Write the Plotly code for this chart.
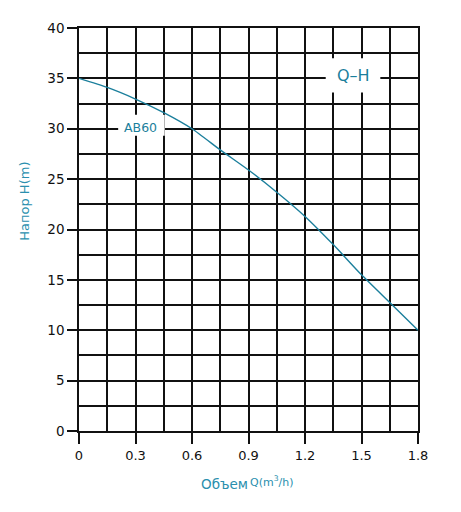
import plotly.graph_objects as go

# Data
flow_q = [0, 0.15, 0.3, 0.45, 0.6, 0.75, 0.9, 1.05, 1.2, 1.35, 1.5, 1.65, 1.8]
head_h = [35, 34.1, 32.95, 31.6, 30.0, 27.9, 25.9, 23.7, 21.3, 18.5, 15.5, 12.75, 10.0]
x_ticks = [0, 0.3, 0.6, 0.9, 1.2, 1.5, 1.8]
x_tick_text = ["0", "0.3", "0.6", "0.9", "1.2", "1.5", "1.8"]
y_ticks = [0, 5, 10, 15, 20, 25, 30, 35, 40]
curve_name = "AB60"
chart_label = "Q–H"

teal = "#1b7f9c"
title_col = "#2a8fae"
grid = "#111111"
FONT = "DejaVu Sans"

# page offset (browser body margin)
OFF = 8
W, H = 461 - OFF, 512 - OFF
l, t = 79 - OFF, 25 - OFF
r = W - (418 - OFF)
b = H - (431 - OFF)
pw, ph = W - l - r, H - t - b

fig = go.Figure()
fig.add_trace(go.Scatter(x=flow_q, y=head_h, mode="lines",
                         line=dict(color=teal, width=1.4, shape="spline", smoothing=0.6),
                         showlegend=False, hoverinfo="skip"))

fig.update_layout(
    width=W, height=H,
    margin=dict(l=l, r=r, t=t, b=b),
    paper_bgcolor="white", plot_bgcolor="white",
    font=dict(family=FONT, size=13, color="#111"),
    xaxis=dict(range=[0, 1.8], tickvals=x_ticks, ticktext=x_tick_text,
               showgrid=True, gridcolor=grid, gridwidth=1.5,
               minor=dict(dtick=0.15, tick0=0, showgrid=True, gridcolor=grid, gridwidth=1.5, ticks=""),
               ticks="outside", ticklen=11, tickwidth=1.8, tickcolor=grid,
               showline=True, linecolor=grid, linewidth=1.5, mirror=True,
               zeroline=False, ticklabelstandoff=1,
               tickfont=dict(family=FONT, size=13, color="#111")),
    yaxis=dict(range=[0, 40], tickvals=y_ticks,
               showgrid=True, gridcolor=grid, gridwidth=1.5,
               minor=dict(dtick=2.5, tick0=0, showgrid=True, gridcolor=grid, gridwidth=1.5, ticks=""),
               ticks="outside", ticklen=10, tickwidth=1.8, tickcolor=grid,
               showline=True, linecolor=grid, linewidth=1.5, mirror=True,
               zeroline=False, ticklabelstandoff=0,
               tickfont=dict(family=FONT, size=13.5, color="#111")),
)

# Curve label with white box
fig.add_shape(type="rect", xref="x", yref="y", x0=0.208, x1=0.455, y0=29.3, y1=31.4,
              fillcolor="white", line=dict(width=0), layer="above")
fig.add_annotation(x=0.325, y=30.1, xref="x", yref="y", text=curve_name, showarrow=False,
                   font=dict(family=FONT, size=12.5, color=teal))
# Q-H label box
fig.add_shape(type="rect", xref="x", yref="y", x0=1.31, x1=1.6, y0=33.6, y1=37.0,
              fillcolor="white", line=dict(width=0), layer="above")
fig.add_annotation(x=1.455, y=35.3, xref="x", yref="y", text=chart_label, showarrow=False,
                   font=dict(family=FONT, size=16, color=teal))

# Axis titles (positions in page pixels, centred)
fig.add_annotation(x=25, y=200, xref="paper", yref="paper", text="Напор H(m)", showarrow=False,
                   xanchor="center", yanchor="middle",
                   textangle=-90, font=dict(family=FONT, size=13, color=title_col))
fig.add_annotation(x=224.5, y=484, xref="paper", yref="paper", text="Объем", showarrow=False,
                   xanchor="center", yanchor="middle",
                   font=dict(family=FONT, size=13.5, color=title_col))
fig.add_annotation(x=271.5, y=482, xref="paper", yref="paper", text="Q(m<sup>3</sup>/h)", showarrow=False,
                   xanchor="center", yanchor="middle",
                   font=dict(family=FONT, size=11, color=title_col))

for a in fig.layout.annotations:
    if a.xref == "paper":
        a.x = (a.x - OFF - l) / pw
        a.y = (H - b - (a.y - OFF)) / ph

fig.write_html("out.html")
